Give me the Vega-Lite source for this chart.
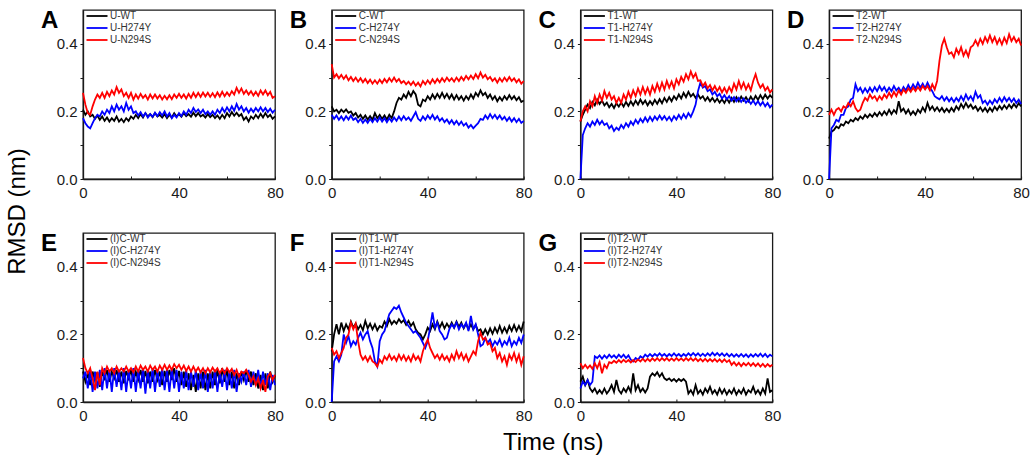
{
  "$schema": "https://vega.github.io/schema/vega-lite/v6.json",
  "background": "white",
  "padding": {"left": 4, "top": 8, "right": 5, "bottom": 5},
  "config": {
    "font": "Liberation Sans",
    "view": {"stroke": "#1a1a1a", "strokeWidth": 1.3},
    "line": {"strokeWidth": 1.8},
    "axis": {"grid": false, "domainColor": "#1a1a1a", "domainWidth": 1.3, "tickColor": "#1a1a1a", "tickWidth": 1, "labelColor": "#1a1a1a", "labelFontSize": 15, "labelFont": "Liberation Sans"},
    "axisX": {"tickSize": -3, "labelPadding": 9, "labelFlush": false},
    "axisY": {"tickSize": 3, "labelPadding": 3},
    "legend": {"orient": "none", "legendX": 2, "legendY": 1, "padding": 0, "labelFontSize": 10, "labelColor": "#333333", "symbolType": "M-1,0H5", "symbolSize": 49, "symbolStrokeWidth": 3, "labelOffset": 15, "rowPadding": 2},
    "title": {"anchor": "start", "frame": "group", "fontSize": 24, "fontWeight": "bold", "color": "black", "baseline": "top", "offset": 0, "dx": -42, "dy": 27}
  },
  "datasets": {
    "A": [
      {"t":0,"a":0.205,"b":0.18,"c":0.255},{"t":1,"a":0.19,"b":0.165,"c":0.22},{"t":2,"a":0.2,"b":0.155,"c":0.195},{"t":3,"a":0.185,"b":0.15,"c":0.19},{"t":4,"a":0.19,"b":0.165,"c":0.215},{"t":5,"a":0.178,"b":0.18,"c":0.235},{"t":6,"a":0.188,"b":0.19,"c":0.25},{"t":7,"a":0.175,"b":0.185,"c":0.24},{"t":8,"a":0.185,"b":0.2,"c":0.255},{"t":9,"a":0.172,"b":0.19,"c":0.24},
      {"t":10,"a":0.182,"b":0.205,"c":0.258},{"t":11,"a":0.17,"b":0.195,"c":0.245},{"t":12,"a":0.18,"b":0.215,"c":0.262},{"t":13,"a":0.172,"b":0.2,"c":0.25},{"t":14,"a":0.185,"b":0.22,"c":0.272},{"t":15,"a":0.17,"b":0.205,"c":0.255},{"t":16,"a":0.178,"b":0.215,"c":0.265},{"t":17,"a":0.168,"b":0.2,"c":0.245},{"t":18,"a":0.18,"b":0.225,"c":0.255},{"t":19,"a":0.172,"b":0.205,"c":0.24},
      {"t":20,"a":0.185,"b":0.215,"c":0.255},{"t":21,"a":0.178,"b":0.195,"c":0.235},{"t":22,"a":0.19,"b":0.2,"c":0.25},{"t":23,"a":0.18,"b":0.188,"c":0.238},{"t":24,"a":0.192,"b":0.198,"c":0.252},{"t":25,"a":0.182,"b":0.185,"c":0.24},{"t":26,"a":0.195,"b":0.195,"c":0.248},{"t":27,"a":0.185,"b":0.182,"c":0.235},{"t":28,"a":0.192,"b":0.192,"c":0.25},{"t":29,"a":0.183,"b":0.184,"c":0.238},
      {"t":30,"a":0.195,"b":0.196,"c":0.25},{"t":31,"a":0.185,"b":0.186,"c":0.238},{"t":32,"a":0.19,"b":0.198,"c":0.248},{"t":33,"a":0.182,"b":0.188,"c":0.235},{"t":34,"a":0.192,"b":0.2,"c":0.246},{"t":35,"a":0.18,"b":0.185,"c":0.236},{"t":36,"a":0.19,"b":0.195,"c":0.248},{"t":37,"a":0.182,"b":0.18,"c":0.236},{"t":38,"a":0.195,"b":0.19,"c":0.25},{"t":39,"a":0.185,"b":0.182,"c":0.24},
      {"t":40,"a":0.192,"b":0.195,"c":0.252},{"t":41,"a":0.184,"b":0.186,"c":0.24},{"t":42,"a":0.195,"b":0.2,"c":0.25},{"t":43,"a":0.186,"b":0.19,"c":0.238},{"t":44,"a":0.192,"b":0.205,"c":0.252},{"t":45,"a":0.184,"b":0.195,"c":0.24},{"t":46,"a":0.196,"b":0.21,"c":0.255},{"t":47,"a":0.186,"b":0.198,"c":0.242},{"t":48,"a":0.195,"b":0.206,"c":0.255},{"t":49,"a":0.185,"b":0.195,"c":0.243},
      {"t":50,"a":0.19,"b":0.205,"c":0.256},{"t":51,"a":0.182,"b":0.192,"c":0.244},{"t":52,"a":0.192,"b":0.2,"c":0.255},{"t":53,"a":0.183,"b":0.19,"c":0.243},{"t":54,"a":0.19,"b":0.2,"c":0.254},{"t":55,"a":0.18,"b":0.19,"c":0.242},{"t":56,"a":0.188,"b":0.205,"c":0.256},{"t":57,"a":0.178,"b":0.195,"c":0.244},{"t":58,"a":0.19,"b":0.21,"c":0.258},{"t":59,"a":0.18,"b":0.198,"c":0.245},
      {"t":60,"a":0.195,"b":0.212,"c":0.256},{"t":61,"a":0.185,"b":0.2,"c":0.246},{"t":62,"a":0.198,"b":0.215,"c":0.26},{"t":63,"a":0.187,"b":0.202,"c":0.25},{"t":64,"a":0.196,"b":0.222,"c":0.27},{"t":65,"a":0.186,"b":0.205,"c":0.255},{"t":66,"a":0.192,"b":0.215,"c":0.268},{"t":67,"a":0.175,"b":0.2,"c":0.252},{"t":68,"a":0.183,"b":0.21,"c":0.262},{"t":69,"a":0.17,"b":0.196,"c":0.25},
      {"t":70,"a":0.185,"b":0.208,"c":0.26},{"t":71,"a":0.178,"b":0.198,"c":0.247},{"t":72,"a":0.19,"b":0.21,"c":0.258},{"t":73,"a":0.18,"b":0.2,"c":0.246},{"t":74,"a":0.193,"b":0.212,"c":0.262},{"t":75,"a":0.182,"b":0.2,"c":0.25},{"t":76,"a":0.195,"b":0.21,"c":0.262},{"t":77,"a":0.183,"b":0.198,"c":0.248},{"t":78,"a":0.19,"b":0.208,"c":0.258},{"t":79,"a":0.178,"b":0.196,"c":0.24},
      {"t":80,"a":0.185,"b":0.205,"c":0.245}
    ],
    "B": [
      {"t":0,"a":0.215,"b":0.19,"c":0.34},{"t":1,"a":0.2,"b":0.178,"c":0.3},{"t":2,"a":0.205,"b":0.188,"c":0.31},{"t":3,"a":0.195,"b":0.175,"c":0.298},{"t":4,"a":0.205,"b":0.185,"c":0.308},{"t":5,"a":0.198,"b":0.174,"c":0.296},{"t":6,"a":0.206,"b":0.186,"c":0.306},{"t":7,"a":0.196,"b":0.176,"c":0.292},{"t":8,"a":0.2,"b":0.188,"c":0.302},{"t":9,"a":0.188,"b":0.175,"c":0.29},
      {"t":10,"a":0.195,"b":0.18,"c":0.3},{"t":11,"a":0.182,"b":0.168,"c":0.288},{"t":12,"a":0.19,"b":0.178,"c":0.298},{"t":13,"a":0.178,"b":0.166,"c":0.286},{"t":14,"a":0.188,"b":0.176,"c":0.296},{"t":15,"a":0.176,"b":0.166,"c":0.284},{"t":16,"a":0.186,"b":0.178,"c":0.294},{"t":17,"a":0.175,"b":0.168,"c":0.282},{"t":18,"a":0.195,"b":0.18,"c":0.292},{"t":19,"a":0.18,"b":0.17,"c":0.282},
      {"t":20,"a":0.19,"b":0.182,"c":0.294},{"t":21,"a":0.178,"b":0.17,"c":0.284},{"t":22,"a":0.188,"b":0.18,"c":0.296},{"t":23,"a":0.176,"b":0.168,"c":0.286},{"t":24,"a":0.19,"b":0.18,"c":0.298},{"t":25,"a":0.18,"b":0.17,"c":0.288},{"t":26,"a":0.2,"b":0.182,"c":0.3},{"t":27,"a":0.225,"b":0.172,"c":0.288},{"t":28,"a":0.24,"b":0.185,"c":0.296},{"t":29,"a":0.235,"b":0.174,"c":0.284},
      {"t":30,"a":0.25,"b":0.186,"c":0.29},{"t":31,"a":0.24,"b":0.175,"c":0.28},{"t":32,"a":0.258,"b":0.182,"c":0.288},{"t":33,"a":0.245,"b":0.172,"c":0.278},{"t":34,"a":0.26,"b":0.185,"c":0.288},{"t":35,"a":0.25,"b":0.198,"c":0.276},{"t":36,"a":0.22,"b":0.178,"c":0.285},{"t":37,"a":0.215,"b":0.172,"c":0.274},{"t":38,"a":0.235,"b":0.185,"c":0.29},{"t":39,"a":0.23,"b":0.175,"c":0.28},
      {"t":40,"a":0.245,"b":0.188,"c":0.292},{"t":41,"a":0.235,"b":0.178,"c":0.282},{"t":42,"a":0.25,"b":0.19,"c":0.295},{"t":43,"a":0.238,"b":0.176,"c":0.284},{"t":44,"a":0.252,"b":0.186,"c":0.296},{"t":45,"a":0.24,"b":0.172,"c":0.286},{"t":46,"a":0.255,"b":0.18,"c":0.298},{"t":47,"a":0.24,"b":0.168,"c":0.288},{"t":48,"a":0.252,"b":0.176,"c":0.3},{"t":49,"a":0.238,"b":0.164,"c":0.29},
      {"t":50,"a":0.25,"b":0.174,"c":0.298},{"t":51,"a":0.235,"b":0.162,"c":0.288},{"t":52,"a":0.248,"b":0.172,"c":0.3},{"t":53,"a":0.235,"b":0.16,"c":0.29},{"t":54,"a":0.245,"b":0.17,"c":0.302},{"t":55,"a":0.232,"b":0.158,"c":0.292},{"t":56,"a":0.245,"b":0.165,"c":0.305},{"t":57,"a":0.235,"b":0.152,"c":0.295},{"t":58,"a":0.25,"b":0.16,"c":0.306},{"t":59,"a":0.238,"b":0.15,"c":0.296},
      {"t":60,"a":0.255,"b":0.158,"c":0.31},{"t":61,"a":0.245,"b":0.165,"c":0.298},{"t":62,"a":0.262,"b":0.178,"c":0.315},{"t":63,"a":0.248,"b":0.175,"c":0.3},{"t":64,"a":0.255,"b":0.188,"c":0.308},{"t":65,"a":0.24,"b":0.178,"c":0.295},{"t":66,"a":0.25,"b":0.192,"c":0.302},{"t":67,"a":0.235,"b":0.18,"c":0.29},{"t":68,"a":0.245,"b":0.19,"c":0.298},{"t":69,"a":0.23,"b":0.178,"c":0.285},
      {"t":70,"a":0.242,"b":0.188,"c":0.298},{"t":71,"a":0.232,"b":0.176,"c":0.288},{"t":72,"a":0.245,"b":0.184,"c":0.3},{"t":73,"a":0.235,"b":0.172,"c":0.29},{"t":74,"a":0.248,"b":0.182,"c":0.302},{"t":75,"a":0.236,"b":0.17,"c":0.29},{"t":76,"a":0.245,"b":0.18,"c":0.298},{"t":77,"a":0.233,"b":0.168,"c":0.286},{"t":78,"a":0.242,"b":0.178,"c":0.295},{"t":79,"a":0.228,"b":0.166,"c":0.282},
      {"t":80,"a":0.232,"b":0.172,"c":0.29}
    ],
    "C": [
      {"t":0,"a":0.17,"b":0.0,"c":0.17},{"t":1,"a":0.19,"b":0.13,"c":0.2},{"t":2,"a":0.205,"b":0.15,"c":0.215},{"t":3,"a":0.22,"b":0.165,"c":0.2},{"t":4,"a":0.21,"b":0.155,"c":0.23},{"t":5,"a":0.228,"b":0.17,"c":0.215},{"t":6,"a":0.218,"b":0.16,"c":0.245},{"t":7,"a":0.235,"b":0.175,"c":0.225},{"t":8,"a":0.222,"b":0.162,"c":0.25},{"t":9,"a":0.232,"b":0.172,"c":0.232},
      {"t":10,"a":0.218,"b":0.16,"c":0.26},{"t":11,"a":0.226,"b":0.165,"c":0.24},{"t":12,"a":0.212,"b":0.15,"c":0.255},{"t":13,"a":0.222,"b":0.158,"c":0.235},{"t":14,"a":0.21,"b":0.142,"c":0.245},{"t":15,"a":0.224,"b":0.152,"c":0.225},{"t":16,"a":0.214,"b":0.145,"c":0.24},{"t":17,"a":0.226,"b":0.16,"c":0.225},{"t":18,"a":0.214,"b":0.15,"c":0.25},{"t":19,"a":0.228,"b":0.165,"c":0.235},
      {"t":20,"a":0.216,"b":0.155,"c":0.258},{"t":21,"a":0.23,"b":0.17,"c":0.24},{"t":22,"a":0.218,"b":0.16,"c":0.262},{"t":23,"a":0.232,"b":0.175,"c":0.245},{"t":24,"a":0.22,"b":0.164,"c":0.268},{"t":25,"a":0.235,"b":0.178,"c":0.25},{"t":26,"a":0.222,"b":0.168,"c":0.272},{"t":27,"a":0.232,"b":0.182,"c":0.252},{"t":28,"a":0.218,"b":0.17,"c":0.27},{"t":29,"a":0.23,"b":0.184,"c":0.25},
      {"t":30,"a":0.22,"b":0.172,"c":0.275},{"t":31,"a":0.234,"b":0.185,"c":0.258},{"t":32,"a":0.222,"b":0.175,"c":0.282},{"t":33,"a":0.236,"b":0.188,"c":0.262},{"t":34,"a":0.224,"b":0.176,"c":0.285},{"t":35,"a":0.24,"b":0.186,"c":0.265},{"t":36,"a":0.228,"b":0.174,"c":0.29},{"t":37,"a":0.242,"b":0.184,"c":0.27},{"t":38,"a":0.23,"b":0.172,"c":0.288},{"t":39,"a":0.245,"b":0.186,"c":0.268},
      {"t":40,"a":0.235,"b":0.176,"c":0.295},{"t":41,"a":0.25,"b":0.19,"c":0.28},{"t":42,"a":0.238,"b":0.178,"c":0.302},{"t":43,"a":0.255,"b":0.192,"c":0.288},{"t":44,"a":0.242,"b":0.18,"c":0.31},{"t":45,"a":0.258,"b":0.195,"c":0.295},{"t":46,"a":0.244,"b":0.184,"c":0.318},{"t":47,"a":0.252,"b":0.2,"c":0.3},{"t":48,"a":0.24,"b":0.22,"c":0.312},{"t":49,"a":0.25,"b":0.26,"c":0.29},
      {"t":50,"a":0.238,"b":0.285,"c":0.292},{"t":51,"a":0.245,"b":0.27,"c":0.275},{"t":52,"a":0.232,"b":0.275,"c":0.285},{"t":53,"a":0.242,"b":0.26,"c":0.268},{"t":54,"a":0.23,"b":0.265,"c":0.278},{"t":55,"a":0.24,"b":0.25,"c":0.262},{"t":56,"a":0.228,"b":0.258,"c":0.275},{"t":57,"a":0.238,"b":0.245,"c":0.26},{"t":58,"a":0.226,"b":0.252,"c":0.272},{"t":59,"a":0.236,"b":0.238,"c":0.256},
      {"t":60,"a":0.225,"b":0.248,"c":0.27},{"t":61,"a":0.238,"b":0.236,"c":0.255},{"t":62,"a":0.226,"b":0.245,"c":0.272},{"t":63,"a":0.24,"b":0.232,"c":0.258},{"t":64,"a":0.228,"b":0.242,"c":0.282},{"t":65,"a":0.242,"b":0.23,"c":0.265},{"t":66,"a":0.23,"b":0.24,"c":0.29},{"t":67,"a":0.244,"b":0.228,"c":0.268},{"t":68,"a":0.232,"b":0.238,"c":0.285},{"t":69,"a":0.242,"b":0.226,"c":0.265},
      {"t":70,"a":0.23,"b":0.234,"c":0.28},{"t":71,"a":0.244,"b":0.222,"c":0.262},{"t":72,"a":0.232,"b":0.232,"c":0.29},{"t":73,"a":0.246,"b":0.22,"c":0.31},{"t":74,"a":0.234,"b":0.23,"c":0.285},{"t":75,"a":0.248,"b":0.218,"c":0.27},{"t":76,"a":0.236,"b":0.228,"c":0.28},{"t":77,"a":0.25,"b":0.215,"c":0.262},{"t":78,"a":0.238,"b":0.225,"c":0.272},{"t":79,"a":0.248,"b":0.212,"c":0.256},
      {"t":80,"a":0.24,"b":0.22,"c":0.265}
    ],
    "D": [
      {"t":0,"a":0.12,"b":0.0,"c":0.19},{"t":1,"a":0.14,"b":0.15,"c":0.205},{"t":2,"a":0.145,"b":0.16,"c":0.19},{"t":3,"a":0.155,"b":0.175,"c":0.205},{"t":4,"a":0.15,"b":0.17,"c":0.21},{"t":5,"a":0.162,"b":0.19,"c":0.2},{"t":6,"a":0.158,"b":0.19,"c":0.215},{"t":7,"a":0.17,"b":0.21,"c":0.21},{"t":8,"a":0.165,"b":0.215,"c":0.225},{"t":9,"a":0.175,"b":0.235,"c":0.215},
      {"t":10,"a":0.17,"b":0.24,"c":0.23},{"t":11,"a":0.18,"b":0.28,"c":0.21},{"t":12,"a":0.174,"b":0.26,"c":0.2},{"t":13,"a":0.185,"b":0.27,"c":0.205},{"t":14,"a":0.178,"b":0.255,"c":0.225},{"t":15,"a":0.19,"b":0.268,"c":0.24},{"t":16,"a":0.182,"b":0.256,"c":0.232},{"t":17,"a":0.192,"b":0.27,"c":0.25},{"t":18,"a":0.184,"b":0.258,"c":0.238},{"t":19,"a":0.195,"b":0.272,"c":0.245},
      {"t":20,"a":0.186,"b":0.26,"c":0.232},{"t":21,"a":0.198,"b":0.275,"c":0.245},{"t":22,"a":0.188,"b":0.262,"c":0.235},{"t":23,"a":0.2,"b":0.272,"c":0.25},{"t":24,"a":0.19,"b":0.258,"c":0.24},{"t":25,"a":0.205,"b":0.27,"c":0.255},{"t":26,"a":0.192,"b":0.26,"c":0.242},{"t":27,"a":0.204,"b":0.275,"c":0.258},{"t":28,"a":0.195,"b":0.262,"c":0.245},{"t":29,"a":0.23,"b":0.27,"c":0.262},
      {"t":30,"a":0.2,"b":0.258,"c":0.25},{"t":31,"a":0.208,"b":0.272,"c":0.265},{"t":32,"a":0.194,"b":0.262,"c":0.255},{"t":33,"a":0.205,"b":0.278,"c":0.268},{"t":34,"a":0.19,"b":0.265,"c":0.258},{"t":35,"a":0.2,"b":0.28,"c":0.27},{"t":36,"a":0.19,"b":0.268,"c":0.26},{"t":37,"a":0.205,"b":0.285,"c":0.272},{"t":38,"a":0.196,"b":0.27,"c":0.262},{"t":39,"a":0.212,"b":0.282,"c":0.275},
      {"t":40,"a":0.2,"b":0.268,"c":0.265},{"t":41,"a":0.225,"b":0.285,"c":0.275},{"t":42,"a":0.205,"b":0.27,"c":0.262},{"t":43,"a":0.215,"b":0.26,"c":0.28},{"t":44,"a":0.202,"b":0.245,"c":0.265},{"t":45,"a":0.212,"b":0.24,"c":0.29},{"t":46,"a":0.2,"b":0.236,"c":0.35},{"t":47,"a":0.21,"b":0.245,"c":0.395},{"t":48,"a":0.198,"b":0.232,"c":0.415},{"t":49,"a":0.208,"b":0.242,"c":0.39},
      {"t":50,"a":0.198,"b":0.23,"c":0.37},{"t":51,"a":0.21,"b":0.24,"c":0.375},{"t":52,"a":0.2,"b":0.228,"c":0.36},{"t":53,"a":0.215,"b":0.24,"c":0.385},{"t":54,"a":0.205,"b":0.23,"c":0.37},{"t":55,"a":0.222,"b":0.245,"c":0.39},{"t":56,"a":0.21,"b":0.232,"c":0.365},{"t":57,"a":0.225,"b":0.25,"c":0.38},{"t":58,"a":0.212,"b":0.235,"c":0.362},{"t":59,"a":0.22,"b":0.245,"c":0.39},
      {"t":60,"a":0.208,"b":0.232,"c":0.395},{"t":61,"a":0.215,"b":0.258,"c":0.41},{"t":62,"a":0.202,"b":0.24,"c":0.395},{"t":63,"a":0.212,"b":0.248,"c":0.415},{"t":64,"a":0.2,"b":0.225,"c":0.4},{"t":65,"a":0.21,"b":0.232,"c":0.42},{"t":66,"a":0.198,"b":0.22,"c":0.405},{"t":67,"a":0.21,"b":0.232,"c":0.425},{"t":68,"a":0.2,"b":0.222,"c":0.405},{"t":69,"a":0.214,"b":0.236,"c":0.42},
      {"t":70,"a":0.204,"b":0.226,"c":0.4},{"t":71,"a":0.216,"b":0.24,"c":0.415},{"t":72,"a":0.206,"b":0.228,"c":0.398},{"t":73,"a":0.218,"b":0.242,"c":0.418},{"t":74,"a":0.208,"b":0.23,"c":0.402},{"t":75,"a":0.22,"b":0.24,"c":0.428},{"t":76,"a":0.21,"b":0.228,"c":0.408},{"t":77,"a":0.222,"b":0.238,"c":0.42},{"t":78,"a":0.212,"b":0.225,"c":0.405},{"t":79,"a":0.224,"b":0.235,"c":0.415},
      {"t":80,"a":0.215,"b":0.222,"c":0.395}
    ],
    "E": [
      {"t":0,"a":0.09,"b":0.07,"c":0.13},{"t":1,"a":0.06,"b":0.09,"c":0.1},{"t":2,"a":0.085,"b":0.04,"c":0.085},{"t":3,"a":0.05,"b":0.095,"c":0.1},{"t":4,"a":0.09,"b":0.03,"c":0.07},{"t":5,"a":0.065,"b":0.09,"c":0.035},{"t":6,"a":0.088,"b":0.04,"c":0.09},{"t":7,"a":0.045,"b":0.095,"c":0.05},{"t":8,"a":0.09,"b":0.035,"c":0.1},{"t":9,"a":0.07,"b":0.1,"c":0.085},
      {"t":10,"a":0.095,"b":0.04,"c":0.105},{"t":11,"a":0.06,"b":0.095,"c":0.09},{"t":12,"a":0.09,"b":0.03,"c":0.1},{"t":13,"a":0.07,"b":0.1,"c":0.085},{"t":14,"a":0.095,"b":0.045,"c":0.105},{"t":15,"a":0.06,"b":0.095,"c":0.09},{"t":16,"a":0.09,"b":0.035,"c":0.1},{"t":17,"a":0.055,"b":0.1,"c":0.09},{"t":18,"a":0.092,"b":0.03,"c":0.105},{"t":19,"a":0.07,"b":0.095,"c":0.09},
      {"t":20,"a":0.095,"b":0.04,"c":0.1},{"t":21,"a":0.06,"b":0.1,"c":0.088},{"t":22,"a":0.09,"b":0.03,"c":0.105},{"t":23,"a":0.065,"b":0.095,"c":0.09},{"t":24,"a":0.095,"b":0.04,"c":0.108},{"t":25,"a":0.06,"b":0.1,"c":0.095},{"t":26,"a":0.092,"b":0.025,"c":0.105},{"t":27,"a":0.055,"b":0.095,"c":0.09},{"t":28,"a":0.09,"b":0.04,"c":0.108},{"t":29,"a":0.06,"b":0.1,"c":0.095},
      {"t":30,"a":0.095,"b":0.03,"c":0.105},{"t":31,"a":0.065,"b":0.095,"c":0.09},{"t":32,"a":0.09,"b":0.045,"c":0.108},{"t":33,"a":0.05,"b":0.1,"c":0.095},{"t":34,"a":0.092,"b":0.035,"c":0.11},{"t":35,"a":0.06,"b":0.095,"c":0.095},{"t":36,"a":0.095,"b":0.03,"c":0.108},{"t":37,"a":0.065,"b":0.1,"c":0.095},{"t":38,"a":0.1,"b":0.04,"c":0.112},{"t":39,"a":0.06,"b":0.095,"c":0.1},
      {"t":40,"a":0.092,"b":0.03,"c":0.11},{"t":41,"a":0.05,"b":0.09,"c":0.095},{"t":42,"a":0.09,"b":0.04,"c":0.108},{"t":43,"a":0.045,"b":0.095,"c":0.092},{"t":44,"a":0.085,"b":0.035,"c":0.105},{"t":45,"a":0.035,"b":0.09,"c":0.09},{"t":46,"a":0.08,"b":0.045,"c":0.105},{"t":47,"a":0.03,"b":0.095,"c":0.09},{"t":48,"a":0.085,"b":0.035,"c":0.102},{"t":49,"a":0.04,"b":0.09,"c":0.088},
      {"t":50,"a":0.09,"b":0.04,"c":0.1},{"t":51,"a":0.035,"b":0.095,"c":0.085},{"t":52,"a":0.085,"b":0.03,"c":0.1},{"t":53,"a":0.04,"b":0.09,"c":0.088},{"t":54,"a":0.09,"b":0.04,"c":0.102},{"t":55,"a":0.05,"b":0.095,"c":0.09},{"t":56,"a":0.095,"b":0.03,"c":0.1},{"t":57,"a":0.055,"b":0.09,"c":0.085},{"t":58,"a":0.1,"b":0.045,"c":0.098},{"t":59,"a":0.06,"b":0.095,"c":0.085},
      {"t":60,"a":0.095,"b":0.035,"c":0.1},{"t":61,"a":0.05,"b":0.09,"c":0.088},{"t":62,"a":0.09,"b":0.04,"c":0.098},{"t":63,"a":0.04,"b":0.095,"c":0.08},{"t":64,"a":0.085,"b":0.03,"c":0.095},{"t":65,"a":0.05,"b":0.085,"c":0.075},{"t":66,"a":0.09,"b":0.06,"c":0.09},{"t":67,"a":0.065,"b":0.09,"c":0.085},{"t":68,"a":0.095,"b":0.05,"c":0.095},{"t":69,"a":0.06,"b":0.095,"c":0.08},
      {"t":70,"a":0.09,"b":0.045,"c":0.06},{"t":71,"a":0.05,"b":0.09,"c":0.075},{"t":72,"a":0.085,"b":0.05,"c":0.05},{"t":73,"a":0.04,"b":0.095,"c":0.07},{"t":74,"a":0.08,"b":0.04,"c":0.04},{"t":75,"a":0.035,"b":0.09,"c":0.065},{"t":76,"a":0.085,"b":0.05,"c":0.03},{"t":77,"a":0.04,"b":0.085,"c":0.075},{"t":78,"a":0.09,"b":0.035,"c":0.085},{"t":79,"a":0.06,"b":0.08,"c":0.065},
      {"t":80,"a":0.08,"b":0.05,"c":0.08}
    ],
    "F": [
      {"t":0,"a":0.15,"b":0.0,"c":0.16},{"t":1,"a":0.2,"b":0.12,"c":0.14},{"t":2,"a":0.23,"b":0.135,"c":0.15},{"t":3,"a":0.2,"b":0.12,"c":0.13},{"t":4,"a":0.235,"b":0.14,"c":0.145},{"t":5,"a":0.21,"b":0.2,"c":0.16},{"t":6,"a":0.23,"b":0.175,"c":0.19},{"t":7,"a":0.215,"b":0.195,"c":0.2},{"t":8,"a":0.238,"b":0.165,"c":0.235},{"t":9,"a":0.22,"b":0.18,"c":0.215},
      {"t":10,"a":0.232,"b":0.17,"c":0.232},{"t":11,"a":0.215,"b":0.19,"c":0.18},{"t":12,"a":0.228,"b":0.205,"c":0.14},{"t":13,"a":0.212,"b":0.185,"c":0.125},{"t":14,"a":0.24,"b":0.2,"c":0.135},{"t":15,"a":0.218,"b":0.21,"c":0.12},{"t":16,"a":0.232,"b":0.18,"c":0.135},{"t":17,"a":0.215,"b":0.16,"c":0.12},{"t":18,"a":0.23,"b":0.12,"c":0.115},{"t":19,"a":0.212,"b":0.105,"c":0.105},
      {"t":20,"a":0.225,"b":0.18,"c":0.125},{"t":21,"a":0.22,"b":0.2,"c":0.115},{"t":22,"a":0.238,"b":0.21,"c":0.135},{"t":23,"a":0.225,"b":0.235,"c":0.125},{"t":24,"a":0.245,"b":0.26,"c":0.14},{"t":25,"a":0.23,"b":0.27,"c":0.125},{"t":26,"a":0.24,"b":0.28,"c":0.135},{"t":27,"a":0.232,"b":0.275,"c":0.122},{"t":28,"a":0.245,"b":0.285,"c":0.14},{"t":29,"a":0.235,"b":0.265,"c":0.125},
      {"t":30,"a":0.242,"b":0.25,"c":0.138},{"t":31,"a":0.228,"b":0.235,"c":0.122},{"t":32,"a":0.24,"b":0.225,"c":0.135},{"t":33,"a":0.225,"b":0.215,"c":0.12},{"t":34,"a":0.235,"b":0.205,"c":0.14},{"t":35,"a":0.215,"b":0.21,"c":0.125},{"t":36,"a":0.205,"b":0.2,"c":0.135},{"t":37,"a":0.2,"b":0.19,"c":0.12},{"t":38,"a":0.185,"b":0.175,"c":0.15},{"t":39,"a":0.2,"b":0.16,"c":0.17},
      {"t":40,"a":0.22,"b":0.18,"c":0.185},{"t":41,"a":0.21,"b":0.22,"c":0.16},{"t":42,"a":0.23,"b":0.265,"c":0.145},{"t":43,"a":0.215,"b":0.22,"c":0.13},{"t":44,"a":0.238,"b":0.235,"c":0.14},{"t":45,"a":0.22,"b":0.21,"c":0.125},{"t":46,"a":0.235,"b":0.2,"c":0.14},{"t":47,"a":0.218,"b":0.185,"c":0.125},{"t":48,"a":0.232,"b":0.19,"c":0.135},{"t":49,"a":0.22,"b":0.215,"c":0.12},
      {"t":50,"a":0.235,"b":0.23,"c":0.14},{"t":51,"a":0.22,"b":0.22,"c":0.125},{"t":52,"a":0.238,"b":0.235,"c":0.15},{"t":53,"a":0.222,"b":0.215,"c":0.13},{"t":54,"a":0.235,"b":0.23,"c":0.145},{"t":55,"a":0.218,"b":0.22,"c":0.125},{"t":56,"a":0.232,"b":0.235,"c":0.14},{"t":57,"a":0.215,"b":0.21,"c":0.12},{"t":58,"a":0.23,"b":0.255,"c":0.135},{"t":59,"a":0.215,"b":0.215,"c":0.15},
      {"t":60,"a":0.228,"b":0.23,"c":0.14},{"t":61,"a":0.21,"b":0.2,"c":0.18},{"t":62,"a":0.215,"b":0.165,"c":0.205},{"t":63,"a":0.2,"b":0.17,"c":0.185},{"t":64,"a":0.215,"b":0.19,"c":0.19},{"t":65,"a":0.2,"b":0.175,"c":0.17},{"t":66,"a":0.218,"b":0.185,"c":0.175},{"t":67,"a":0.202,"b":0.165,"c":0.15},{"t":68,"a":0.22,"b":0.18,"c":0.16},{"t":69,"a":0.205,"b":0.17,"c":0.13},
      {"t":70,"a":0.225,"b":0.185,"c":0.145},{"t":71,"a":0.205,"b":0.165,"c":0.12},{"t":72,"a":0.22,"b":0.18,"c":0.135},{"t":73,"a":0.205,"b":0.17,"c":0.11},{"t":74,"a":0.225,"b":0.19,"c":0.14},{"t":75,"a":0.21,"b":0.165,"c":0.125},{"t":76,"a":0.228,"b":0.18,"c":0.145},{"t":77,"a":0.21,"b":0.17,"c":0.12},{"t":78,"a":0.225,"b":0.19,"c":0.14},{"t":79,"a":0.21,"b":0.175,"c":0.11},
      {"t":80,"a":0.238,"b":0.2,"c":0.135}
    ],
    "G": [
      {"t":0,"a":0.06,"b":0.04,"c":0.115},{"t":1,"a":0.075,"b":0.06,"c":0.1},{"t":2,"a":0.05,"b":0.05,"c":0.11},{"t":3,"a":0.065,"b":0.065,"c":0.1},{"t":4,"a":0.04,"b":0.05,"c":0.108},{"t":5,"a":0.03,"b":0.06,"c":0.098},{"t":6,"a":0.04,"b":0.135,"c":0.115},{"t":7,"a":0.025,"b":0.13,"c":0.1},{"t":8,"a":0.035,"b":0.138,"c":0.118},{"t":9,"a":0.025,"b":0.128,"c":0.085},
      {"t":10,"a":0.04,"b":0.138,"c":0.11},{"t":11,"a":0.025,"b":0.13,"c":0.1},{"t":12,"a":0.035,"b":0.14,"c":0.118},{"t":13,"a":0.05,"b":0.132,"c":0.115},{"t":14,"a":0.03,"b":0.138,"c":0.122},{"t":15,"a":0.065,"b":0.13,"c":0.116},{"t":16,"a":0.035,"b":0.14,"c":0.124},{"t":17,"a":0.025,"b":0.132,"c":0.117},{"t":18,"a":0.04,"b":0.14,"c":0.125},{"t":19,"a":0.03,"b":0.13,"c":0.118},
      {"t":20,"a":0.045,"b":0.138,"c":0.124},{"t":21,"a":0.03,"b":0.125,"c":0.117},{"t":22,"a":0.085,"b":0.12,"c":0.124},{"t":23,"a":0.035,"b":0.13,"c":0.118},{"t":24,"a":0.05,"b":0.125,"c":0.126},{"t":25,"a":0.03,"b":0.135,"c":0.12},{"t":26,"a":0.04,"b":0.13,"c":0.128},{"t":27,"a":0.028,"b":0.14,"c":0.12},{"t":28,"a":0.04,"b":0.134,"c":0.128},{"t":29,"a":0.075,"b":0.142,"c":0.121},
      {"t":30,"a":0.085,"b":0.135,"c":0.129},{"t":31,"a":0.078,"b":0.142,"c":0.122},{"t":32,"a":0.088,"b":0.136,"c":0.13},{"t":33,"a":0.075,"b":0.144,"c":0.122},{"t":34,"a":0.085,"b":0.136,"c":0.13},{"t":35,"a":0.07,"b":0.142,"c":0.123},{"t":36,"a":0.065,"b":0.135,"c":0.13},{"t":37,"a":0.07,"b":0.142,"c":0.122},{"t":38,"a":0.062,"b":0.136,"c":0.129},{"t":39,"a":0.068,"b":0.144,"c":0.122},
      {"t":40,"a":0.06,"b":0.136,"c":0.13},{"t":41,"a":0.068,"b":0.142,"c":0.123},{"t":42,"a":0.062,"b":0.135,"c":0.129},{"t":43,"a":0.068,"b":0.142,"c":0.122},{"t":44,"a":0.06,"b":0.136,"c":0.13},{"t":45,"a":0.025,"b":0.144,"c":0.123},{"t":46,"a":0.035,"b":0.137,"c":0.13},{"t":47,"a":0.022,"b":0.145,"c":0.122},{"t":48,"a":0.05,"b":0.137,"c":0.129},{"t":49,"a":0.025,"b":0.144,"c":0.121},
      {"t":50,"a":0.035,"b":0.136,"c":0.128},{"t":51,"a":0.022,"b":0.143,"c":0.12},{"t":52,"a":0.04,"b":0.136,"c":0.128},{"t":53,"a":0.028,"b":0.144,"c":0.12},{"t":54,"a":0.045,"b":0.137,"c":0.127},{"t":55,"a":0.025,"b":0.146,"c":0.12},{"t":56,"a":0.035,"b":0.138,"c":0.127},{"t":57,"a":0.022,"b":0.145,"c":0.119},{"t":58,"a":0.04,"b":0.137,"c":0.126},{"t":59,"a":0.025,"b":0.144,"c":0.118},
      {"t":60,"a":0.038,"b":0.136,"c":0.126},{"t":61,"a":0.022,"b":0.143,"c":0.118},{"t":62,"a":0.035,"b":0.135,"c":0.124},{"t":63,"a":0.025,"b":0.142,"c":0.11},{"t":64,"a":0.04,"b":0.134,"c":0.118},{"t":65,"a":0.022,"b":0.141,"c":0.108},{"t":66,"a":0.035,"b":0.134,"c":0.116},{"t":67,"a":0.025,"b":0.142,"c":0.106},{"t":68,"a":0.04,"b":0.134,"c":0.115},{"t":69,"a":0.022,"b":0.141,"c":0.108},
      {"t":70,"a":0.035,"b":0.133,"c":0.116},{"t":71,"a":0.028,"b":0.141,"c":0.107},{"t":72,"a":0.045,"b":0.134,"c":0.115},{"t":73,"a":0.025,"b":0.142,"c":0.106},{"t":74,"a":0.035,"b":0.135,"c":0.114},{"t":75,"a":0.022,"b":0.143,"c":0.105},{"t":76,"a":0.04,"b":0.134,"c":0.113},{"t":77,"a":0.025,"b":0.142,"c":0.104},{"t":78,"a":0.07,"b":0.133,"c":0.112},{"t":79,"a":0.03,"b":0.14,"c":0.105},
      {"t":80,"a":0.035,"b":0.135,"c":0.11}
    ]
  },
  "columns": 4,
  "spacing": {"row": 54, "column": 56.7},
  "bounds": "flush",
  "resolve": {"scale": {"color": "independent"}, "legend": {"color": "independent"}},
  "concat": [
    {
      "title": {"text": "A"}, "width": 192, "height": 169,
      "data": {"name": "A"},
      "transform": [{"fold": ["a", "b", "c"], "as": ["s", "v"]}],
      "mark": "line",
      "encoding": {
        "x": {"field": "t", "type": "quantitative", "scale": {"domain": [0, 80]}, "axis": {"values": [0, 20, 40, 60, 80], "labelExpr": "datum.value % 40 == 0 ? datum.label : ''", "title": null}},
        "y": {"field": "v", "type": "quantitative", "scale": {"domain": [0, 0.5]}, "axis": {"values": [0, 0.1, 0.2, 0.3, 0.4], "labelExpr": "datum.value == 0.1 || datum.value == 0.3 ? '' : format(datum.value, '.1f')", "title": "RMSD (nm)", "titleFontSize": 24, "titleFontWeight": "normal", "titleColor": "black", "titleX": -58.5, "titleY": 201, "titleAngle": -90, "titleAlign": "center", "titleBaseline": "alphabetic"}},
        "color": {"field": "s", "type": "nominal", "scale": {"domain": ["a", "b", "c"], "range": ["#000000", "#0000ff", "#ff0000"]}, "legend": {"title": null, "labelExpr": "datum.label == 'a' ? 'U-WT' : datum.label == 'b' ? 'U-H274Y' : 'U-N294S'"}}
      }
    },
    {
      "title": {"text": "B"}, "width": 192, "height": 169,
      "data": {"name": "B"},
      "transform": [{"fold": ["a", "b", "c"], "as": ["s", "v"]}],
      "mark": "line",
      "encoding": {
        "x": {"field": "t", "type": "quantitative", "scale": {"domain": [0, 80]}, "axis": {"values": [0, 20, 40, 60, 80], "labelExpr": "datum.value % 40 == 0 ? datum.label : ''", "title": null}},
        "y": {"field": "v", "type": "quantitative", "scale": {"domain": [0, 0.5]}, "axis": {"values": [0, 0.1, 0.2, 0.3, 0.4], "labelExpr": "datum.value == 0.1 || datum.value == 0.3 ? '' : format(datum.value, '.1f')", "title": null}},
        "color": {"field": "s", "type": "nominal", "scale": {"domain": ["a", "b", "c"], "range": ["#000000", "#0000ff", "#ff0000"]}, "legend": {"title": null, "labelExpr": "datum.label == 'a' ? 'C-WT' : datum.label == 'b' ? 'C-H274Y' : 'C-N294S'"}}
      }
    },
    {
      "title": {"text": "C"}, "width": 192, "height": 169,
      "data": {"name": "C"},
      "transform": [{"fold": ["a", "b", "c"], "as": ["s", "v"]}],
      "mark": "line",
      "encoding": {
        "x": {"field": "t", "type": "quantitative", "scale": {"domain": [0, 80]}, "axis": {"values": [0, 20, 40, 60, 80], "labelExpr": "datum.value % 40 == 0 ? datum.label : ''", "title": null}},
        "y": {"field": "v", "type": "quantitative", "scale": {"domain": [0, 0.5]}, "axis": {"values": [0, 0.1, 0.2, 0.3, 0.4], "labelExpr": "datum.value == 0.1 || datum.value == 0.3 ? '' : format(datum.value, '.1f')", "title": null}},
        "color": {"field": "s", "type": "nominal", "scale": {"domain": ["a", "b", "c"], "range": ["#000000", "#0000ff", "#ff0000"]}, "legend": {"title": null, "labelExpr": "datum.label == 'a' ? 'T1-WT' : datum.label == 'b' ? 'T1-H274Y' : 'T1-N294S'"}}
      }
    },
    {
      "title": {"text": "D"}, "width": 192, "height": 169,
      "data": {"name": "D"},
      "transform": [{"fold": ["a", "b", "c"], "as": ["s", "v"]}],
      "mark": "line",
      "encoding": {
        "x": {"field": "t", "type": "quantitative", "scale": {"domain": [0, 80]}, "axis": {"values": [0, 20, 40, 60, 80], "labelExpr": "datum.value % 40 == 0 ? datum.label : ''", "title": null}},
        "y": {"field": "v", "type": "quantitative", "scale": {"domain": [0, 0.5]}, "axis": {"values": [0, 0.1, 0.2, 0.3, 0.4], "labelExpr": "datum.value == 0.1 || datum.value == 0.3 ? '' : format(datum.value, '.1f')", "title": null}},
        "color": {"field": "s", "type": "nominal", "scale": {"domain": ["a", "b", "c"], "range": ["#000000", "#0000ff", "#ff0000"]}, "legend": {"title": null, "labelExpr": "datum.label == 'a' ? 'T2-WT' : datum.label == 'b' ? 'T2-H274Y' : 'T2-N294S'"}}
      }
    },
    {
      "title": {"text": "E"}, "width": 192, "height": 169,
      "data": {"name": "E"},
      "transform": [{"fold": ["a", "b", "c"], "as": ["s", "v"]}],
      "mark": "line",
      "encoding": {
        "x": {"field": "t", "type": "quantitative", "scale": {"domain": [0, 80]}, "axis": {"values": [0, 20, 40, 60, 80], "labelExpr": "datum.value % 40 == 0 ? datum.label : ''", "title": null}},
        "y": {"field": "v", "type": "quantitative", "scale": {"domain": [0, 0.5]}, "axis": {"values": [0, 0.1, 0.2, 0.3, 0.4], "labelExpr": "datum.value == 0.1 || datum.value == 0.3 ? '' : format(datum.value, '.1f')", "title": null}},
        "color": {"field": "s", "type": "nominal", "scale": {"domain": ["a", "b", "c"], "range": ["#000000", "#0000ff", "#ff0000"]}, "legend": {"title": null, "labelExpr": "datum.label == 'a' ? '(I)C-WT' : datum.label == 'b' ? '(I)C-H274Y' : '(I)C-N294S'"}}
      }
    },
    {
      "title": {"text": "F"}, "width": 192, "height": 169,
      "data": {"name": "F"},
      "transform": [{"fold": ["a", "b", "c"], "as": ["s", "v"]}],
      "mark": "line",
      "encoding": {
        "x": {"field": "t", "type": "quantitative", "scale": {"domain": [0, 80]}, "axis": {"values": [0, 20, 40, 60, 80], "labelExpr": "datum.value % 40 == 0 ? datum.label : ''", "title": "Time (ns)", "titleFontSize": 24, "titleFontWeight": "normal", "titleColor": "black", "titleX": 221, "titleY": 47, "titleAlign": "center", "titleBaseline": "alphabetic"}},
        "y": {"field": "v", "type": "quantitative", "scale": {"domain": [0, 0.5]}, "axis": {"values": [0, 0.1, 0.2, 0.3, 0.4], "labelExpr": "datum.value == 0.1 || datum.value == 0.3 ? '' : format(datum.value, '.1f')", "title": null}},
        "color": {"field": "s", "type": "nominal", "scale": {"domain": ["a", "b", "c"], "range": ["#000000", "#0000ff", "#ff0000"]}, "legend": {"title": null, "labelExpr": "datum.label == 'a' ? '(I)T1-WT' : datum.label == 'b' ? '(I)T1-H274Y' : '(I)T1-N294S'"}}
      }
    },
    {
      "title": {"text": "G"}, "width": 192, "height": 169,
      "data": {"name": "G"},
      "transform": [{"fold": ["a", "b", "c"], "as": ["s", "v"]}],
      "mark": "line",
      "encoding": {
        "x": {"field": "t", "type": "quantitative", "scale": {"domain": [0, 80]}, "axis": {"values": [0, 20, 40, 60, 80], "labelExpr": "datum.value % 40 == 0 ? datum.label : ''", "title": null}},
        "y": {"field": "v", "type": "quantitative", "scale": {"domain": [0, 0.5]}, "axis": {"values": [0, 0.1, 0.2, 0.3, 0.4], "labelExpr": "datum.value == 0.1 || datum.value == 0.3 ? '' : format(datum.value, '.1f')", "title": null}},
        "color": {"field": "s", "type": "nominal", "scale": {"domain": ["a", "b", "c"], "range": ["#000000", "#0000ff", "#ff0000"]}, "legend": {"title": null, "labelExpr": "datum.label == 'a' ? '(I)T2-WT' : datum.label == 'b' ? '(I)T2-H274Y' : '(I)T2-N294S'"}}
      }
    }
  ]
}
